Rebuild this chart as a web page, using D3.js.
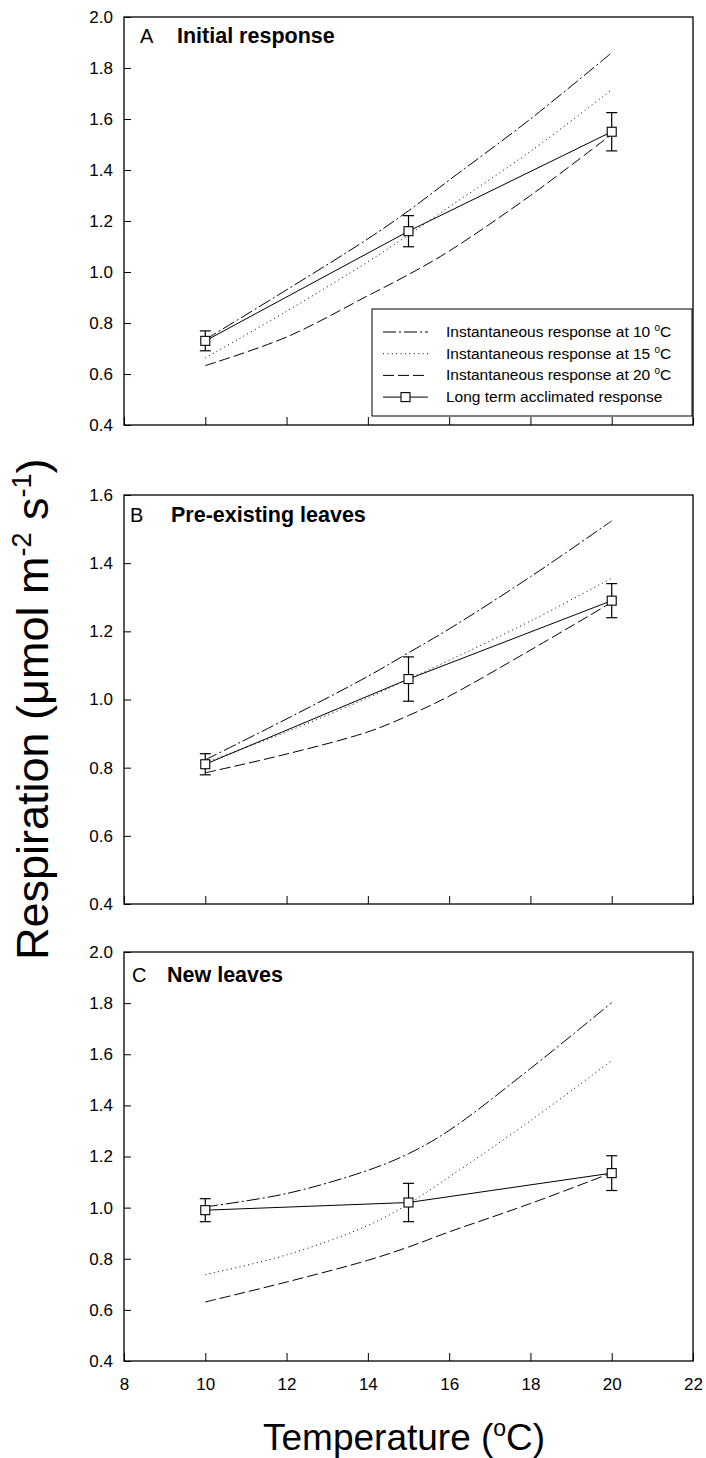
<!DOCTYPE html>
<html>
<head>
<meta charset="utf-8">
<script src="https://cdn.jsdelivr.net/npm/d3@7"></script>
<style>
  body { margin: 0; background: #fff; }
  svg { display: block; font-family: "Liberation Sans", Arial, Helvetica, sans-serif; }
</style>
</head>
<body>
<svg id="chart" width="706" height="1458"></svg>
<script>
// Temperatures (°C) at which the instantaneous-response curves are tabulated
const curveTemps = [10, 12, 14, 15, 16, 18, 20];
// Growth temperatures of the long-term acclimated measurements
const growthTemps = [10, 15, 20];

// A – Initial response
const aInst10 = [0.735, 0.93, 1.13, 1.24, 1.36, 1.60, 1.86];
const aInst15 = [0.663, 0.846, 1.04, 1.145, 1.255, 1.473, 1.715];
const aInst20 = [0.633, 0.745, 0.907, 0.99, 1.082, 1.30, 1.54];
const aMean = [0.73, 1.16, 1.55];
const aSE = [0.039, 0.061, 0.075];

// B – Pre-existing leaves
const bInst10 = [0.823, 0.943, 1.068, 1.137, 1.207, 1.36, 1.524];
const bInst15 = [0.815, 0.905, 1.005, 1.06, 1.115, 1.23, 1.356];
const bInst20 = [0.785, 0.84, 0.905, 0.953, 1.01, 1.145, 1.285];
const bMean = [0.81, 1.06, 1.29];
const bSE = [0.031, 0.065, 0.05];

// C – New leaves
const cInst10 = [1.003, 1.055, 1.146, 1.211, 1.302, 1.544, 1.802];
const cInst15 = [0.738, 0.815, 0.93, 1.015, 1.12, 1.34, 1.575];
const cInst20 = [0.631, 0.709, 0.794, 0.846, 0.905, 1.016, 1.136];
const cMean = [0.99, 1.02, 1.135];
const cSE = [0.045, 0.075, 0.068];

// Axis ticks
const xTicks = [8, 10, 12, 14, 16, 18, 20, 22];
const yTicks20 = [0.4, 0.6, 0.8, 1.0, 1.2, 1.4, 1.6, 1.8, 2.0];
const yTicks16 = [0.4, 0.6, 0.8, 1.0, 1.2, 1.4, 1.6];

// Panel letters and titles
const panelLetters = ["A", "B", "C"];
const panelTitles = ["Initial response", "Pre-existing leaves", "New leaves"];

// Legend entries (a superscript "o" precedes the final "C")
const legendLabels = [
  "Instantaneous response at 10 ",
  "Instantaneous response at 15 ",
  "Instantaneous response at 20 ",
  "Long term acclimated response"
];

const panels = [
  { letter: panelLetters[0], title: panelTitles[0], yDomain: [0.4, 2.0], yTicks: yTicks20,
    inst: [aInst10, aInst15, aInst20], mean: aMean, se: aSE },
  { letter: panelLetters[1], title: panelTitles[1], yDomain: [0.4, 1.6], yTicks: yTicks16,
    inst: [bInst10, bInst15, bInst20], mean: bMean, se: bSE },
  { letter: panelLetters[2], title: panelTitles[2], yDomain: [0.4, 2.0], yTicks: yTicks20,
    inst: [cInst10, cInst15, cInst20], mean: cMean, se: cSE }
];

// ---- layout & styling ----
const frameLeft = 124, frameRight = 693;
const layout = [
  { top: 17,  bottom: 425,  letterX: 140, titleX: 177, textDy: 26, legend: true,  xLabels: false },
  { top: 495, bottom: 904,  letterX: 130, titleX: 171, textDy: 27, legend: false, xLabels: false },
  { top: 952, bottom: 1361, letterX: 132, titleX: 167, textDy: 30, legend: false, xLabels: true }
];
const dashStyles = ["13,3,2,3", "1,3.4", "11,4"];

const svg = d3.select("#chart");
const x = d3.scaleLinear().domain([8, 22]).range([frameLeft, frameRight]);

panels.forEach((p, i) => {
  const L = layout[i];
  const y = d3.scaleLinear().domain(p.yDomain).range([L.bottom, L.top]);
  const g = svg.append("g");

  // frame
  g.append("rect")
    .attr("x", frameLeft).attr("y", L.top)
    .attr("width", frameRight - frameLeft).attr("height", L.bottom - L.top)
    .attr("fill", "none").attr("stroke", "#000").attr("stroke-width", 1.3);

  // left axis: inward ticks, labels outside
  const yAxis = d3.axisLeft(y).tickValues(p.yTicks).tickSize(-7).tickPadding(11)
    .tickFormat(d3.format(".1f"));
  const ya = g.append("g").attr("transform", `translate(${frameLeft},0)`).call(yAxis);
  ya.select(".domain").remove();
  ya.selectAll("line").attr("stroke", "#000").attr("stroke-width", 1);
  ya.selectAll("text").attr("font-size", 17).attr("fill", "#000")
    .attr("font-family", "'Liberation Sans', Arial, sans-serif");

  // bottom axis: inward ticks
  const xAxis = d3.axisBottom(x).tickValues(xTicks).tickSize(-8).tickPadding(17)
    .tickFormat(L.xLabels ? d3.format("d") : "");
  const xa = g.append("g").attr("transform", `translate(0,${L.bottom})`).call(xAxis);
  xa.select(".domain").remove();
  xa.selectAll("line").attr("stroke", "#000").attr("stroke-width", 1);
  xa.selectAll("text").attr("font-size", 17).attr("fill", "#000")
    .attr("font-family", "'Liberation Sans', Arial, sans-serif");

  // panel letter and title
  g.append("text").attr("x", L.letterX).attr("y", L.top + L.textDy)
    .attr("font-size", 20).text(p.letter);
  g.append("text").attr("x", L.titleX).attr("y", L.top + L.textDy)
    .attr("font-size", 21.5).attr("font-weight", "bold").text(p.title);

  // instantaneous response curves
  const curve = d3.line()
    .x((d, k) => x(curveTemps[k]))
    .y(d => y(d))
    .curve(d3.curveCatmullRom.alpha(0.5));
  p.inst.forEach((series, s) => {
    g.append("path").attr("d", curve(series))
      .attr("fill", "none").attr("stroke", "#000").attr("stroke-width", 1)
      .attr("stroke-dasharray", dashStyles[s]);
  });

  // long term acclimated response
  const seg = d3.line().x((d, k) => x(growthTemps[k])).y(d => y(d));
  g.append("path").attr("d", seg(p.mean))
    .attr("fill", "none").attr("stroke", "#000").attr("stroke-width", 1);

  // error bars
  const eb = g.append("g").attr("stroke", "#000").attr("stroke-width", 1.2);
  p.mean.forEach((m, k) => {
    const cx = x(growthTemps[k]);
    const yHi = y(m + p.se[k]), yLo = y(m - p.se[k]);
    eb.append("line").attr("x1", cx).attr("x2", cx).attr("y1", yHi).attr("y2", yLo);
    eb.append("line").attr("x1", cx - 5.5).attr("x2", cx + 5.5).attr("y1", yHi).attr("y2", yHi);
    eb.append("line").attr("x1", cx - 5.5).attr("x2", cx + 5.5).attr("y1", yLo).attr("y2", yLo);
  });

  // square markers
  g.selectAll("rect.mk").data(p.mean).join("rect").attr("class", "mk")
    .attr("x", (d, k) => x(growthTemps[k]) - 4.5)
    .attr("y", d => y(d) - 4.5)
    .attr("width", 9).attr("height", 9)
    .attr("fill", "#fff").attr("stroke", "#000").attr("stroke-width", 1.1);

  // legend (first panel only)
  if (L.legend) {
    const lg = g.append("g");
    lg.append("rect").attr("x", 372).attr("y", 309).attr("width", 320).attr("height", 107)
      .attr("fill", "#fff").attr("stroke", "#000").attr("stroke-width", 1);
    legendLabels.forEach((lab, r) => {
      const by = 337 + r * 21.7;
      const ly = by - 5;
      lg.append("line").attr("x1", 383).attr("x2", 428).attr("y1", ly).attr("y2", ly)
        .attr("stroke", "#000").attr("stroke-width", 1)
        .attr("stroke-dasharray", r < 3 ? dashStyles[r] : null);
      if (r === 3) {
        lg.append("rect").attr("x", 405.5 - 4.5).attr("y", ly - 4.5).attr("width", 9).attr("height", 9)
          .attr("fill", "#fff").attr("stroke", "#000").attr("stroke-width", 1.1);
      }
      const t = lg.append("text").attr("x", 446).attr("y", by).attr("font-size", 15.5).text(lab);
      if (r < 3) {
        t.append("tspan").attr("dy", -6).attr("font-size", 10).text("o");
        t.append("tspan").attr("dy", 6).text("C");
      }
    });
  }
});

// y-axis title
const yt = svg.append("text")
  .attr("transform", "translate(48,960) rotate(-90)")
  .attr("font-size", 45).attr("text-anchor", "start");
yt.append("tspan").text("Respiration (\u03bcmol m");
yt.append("tspan").attr("dy", -17).attr("font-size", 27).text("-2");
yt.append("tspan").attr("dy", 17).text(" s");
yt.append("tspan").attr("dy", -17).attr("font-size", 27).text("-1");
yt.append("tspan").attr("dy", 17).text(")");

// x-axis title
const xt = svg.append("text").attr("x", 263).attr("y", 1450).attr("font-size", 37);
xt.append("tspan").text("Temperature (");
xt.append("tspan").attr("dy", -14).attr("font-size", 23).text("o");
xt.append("tspan").attr("dy", 14).text("C)");
</script>
</body>
</html>
